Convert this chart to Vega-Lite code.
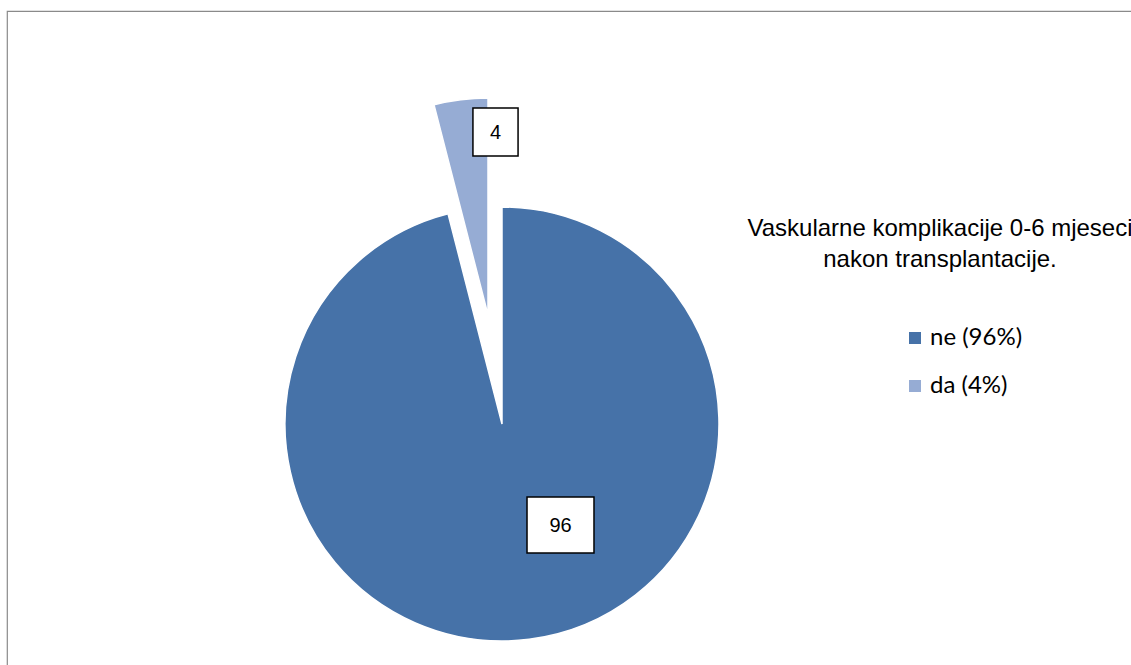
{
  "$schema": "https://vega.github.io/schema/vega-lite/v6.json",
  "width": 1144,
  "height": 664,
  "autosize": "none",
  "padding": {"left": 7, "top": 11, "right": -20, "bottom": -10},
  "background": "white",
  "view": {"stroke": "#8a8a8a", "strokeWidth": 1.2, "fill": "white"},
  "data": {
    "values": [
      {"cat": "ne", "value": 96, "legend": "ne (96%)"},
      {"cat": "da", "value": 4, "legend": "da (4%)"}
    ]
  },
  "layer": [
    {
      "mark": {"type": "arc", "radius": 217, "xOffset": -77, "yOffset": 81, "stroke": "white", "strokeWidth": 1.5},
      "encoding": {
        "theta": {"field": "value", "type": "quantitative", "stack": true},
        "order": {"field": "value", "type": "quantitative", "sort": "descending"},
        "color": {
          "field": "legend",
          "type": "nominal",
          "scale": {"domain": ["ne (96%)", "da (4%)"], "range": ["#4672A8", "#96ACD4"]},
          "legend": {
            "orient": "none",
            "legendX": 740,
            "legendY": 206,
            "padding": 0,
            "title": ["Vaskularne komplikacije 0-6 mjeseci", "nakon transplantacije."],
            "titleFont": "Liberation Sans",
            "titleFontSize": 24,
            "titleFontWeight": "normal",
            "titleColor": "#000000",
            "titleLimit": 1000,
            "titleAnchor": "middle",
            "titleAlign": "center",
            "titleLineHeight": 31,
            "titlePadding": 54,
            "symbolType": "square",
            "symbolSize": 144,
            "symbolStrokeWidth": 0,
            "symbolOpacity": 1,
            "symbolOffset": 46,
            "labelOffset": 3,
            "labelFont": "Lato",
            "labelFontSize": 24,
            "labelColor": "#000000",
            "labelLimit": 400,
            "rowPadding": 24
          }
        },
        "opacity": {"condition": {"test": "datum.cat === 'ne'", "value": 1}, "value": 0}
      }
    },
    {
      "mark": {"type": "arc", "radius": 217, "xOffset": -91, "yOffset": -28, "stroke": "white", "strokeWidth": 1.5},
      "encoding": {
        "theta": {"field": "value", "type": "quantitative", "stack": true},
        "order": {"field": "value", "type": "quantitative", "sort": "descending"},
        "color": {"field": "legend", "type": "nominal"},
        "opacity": {"condition": {"test": "datum.cat === 'da'", "value": 1}, "value": 0}
      }
    },
    {
      "transform": [{"filter": "datum.cat === 'ne'"}],
      "mark": {"type": "point", "shape": "M-1.196,-1H1.196V1H-1.196Z", "size": 3136, "filled": true, "fill": "white", "stroke": "black", "strokeWidth": 1.5, "opacity": 1, "xOffset": -18.5, "yOffset": 182},
      "encoding": {}
    },
    {
      "transform": [{"filter": "datum.cat === 'ne'"}],
      "mark": {"type": "text", "font": "Liberation Sans", "fontSize": 20, "color": "#000000", "baseline": "middle", "align": "center", "xOffset": -18.5, "yOffset": 183},
      "encoding": {"text": {"field": "value", "type": "quantitative"}}
    },
    {
      "transform": [{"filter": "datum.cat === 'da'"}],
      "mark": {"type": "point", "shape": "M-0.94,-1H0.94V1H-0.94Z", "size": 2304, "filled": true, "fill": "white", "stroke": "black", "strokeWidth": 1.5, "opacity": 1, "xOffset": -83.5, "yOffset": -211},
      "encoding": {}
    },
    {
      "transform": [{"filter": "datum.cat === 'da'"}],
      "mark": {"type": "text", "font": "Liberation Sans", "fontSize": 20, "color": "#000000", "baseline": "middle", "align": "center", "xOffset": -83.5, "yOffset": -210},
      "encoding": {"text": {"field": "value", "type": "quantitative"}}
    }
  ]
}
